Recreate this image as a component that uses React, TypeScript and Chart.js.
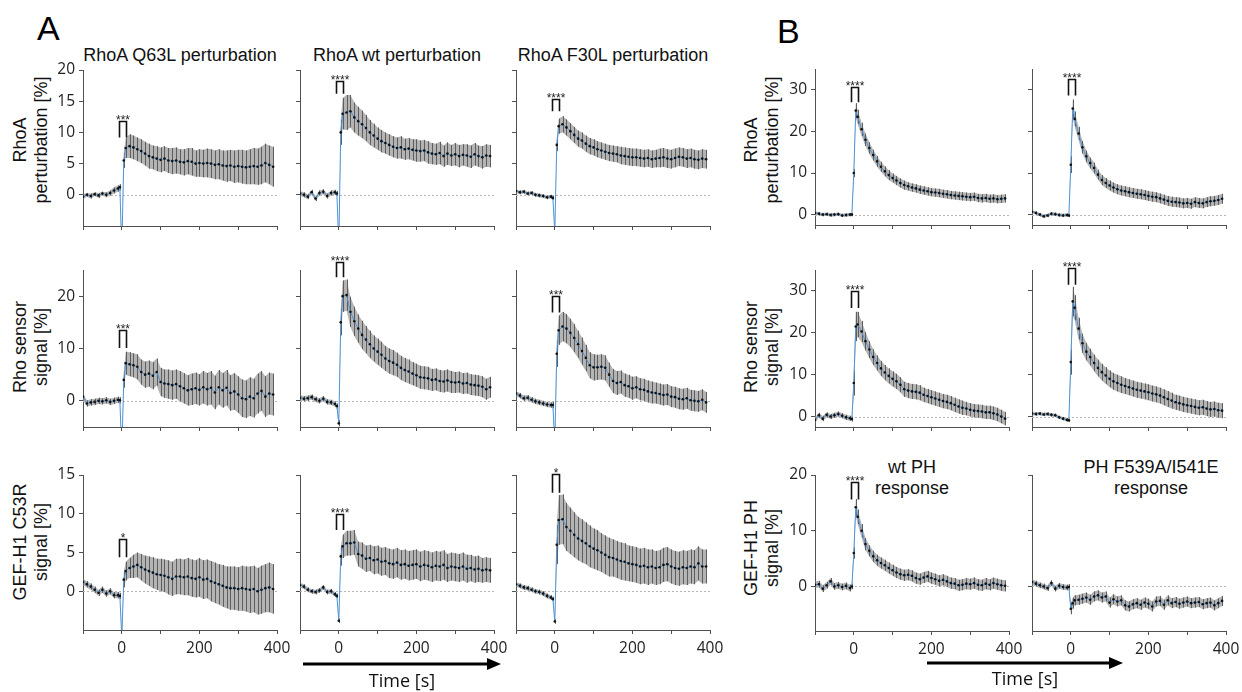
import React, { useEffect, useRef } from "react";
import { Chart, registerables } from "chart.js";
Chart.register(...registerables);

// ---------- data ----------
const TIME = [-100, -90, -80, -70, -60, -50, -40, -30, -20, -10, -5, 0, 5,
  10, 20, 30, 40, 50, 60, 70, 80, 90, 100, 110, 120, 130, 140, 150, 160, 170, 180, 190, 200,
  210, 220, 230, 240, 250, 260, 270, 280, 290, 300, 310, 320, 330, 340, 350, 360, 370, 380, 390];
const X_TICKS = [-100, 0, 100, 200, 300, 400];
const X_LABELS = [0, 200, 400];

const TITLES_A = ["RhoA Q63L perturbation", "RhoA wt perturbation", "RhoA F30L perturbation"];
const TITLES_B = [["wt PH", "response"], ["PH F539A/I541E", "response"]];
const YLABELS_A = [["RhoA", "perturbation [%]"], ["Rho sensor", "signal [%]"], ["GEF-H1 C53R", "signal [%]"]];
const YLABELS_B = [["RhoA", "perturbation [%]"], ["Rho sensor", "signal [%]"], ["GEF-H1 PH", "signal [%]"]];

const Y_TICKS_A = [[0, 5, 10, 15, 20], [0, 10, 20], [0, 5, 10, 15]];
const Y_RANGE_A = [[-5, 20], [-5, 25], [-5, 15]];
const Y_TICKS_B = [[0, 10, 20, 30], [0, 10, 20, 30], [0, 10, 20]];
const Y_RANGE_B = [[-2.5, 35], [-2.5, 35], [-8, 20]];

// Panel A, row 1: RhoA perturbation
const aQ63L_rhoa = [-0.3, 0.0, -0.2, 0.1, -0.1, 0.2, 0.0, 0.3, 0.7, 1.0, 1.2, -9.0, 5.5,
  7.5, 7.8, 7.6, 7.3, 7.0, 6.6, 6.2, 6.0, 5.8, 5.6, 5.8, 5.5, 5.4, 5.5, 5.3, 5.2, 5.4, 5.3, 5.0, 5.1,
  5.0, 5.1, 5.0, 4.8, 4.9, 4.7, 4.6, 4.7, 4.5, 4.6, 4.5, 4.4, 4.5, 4.6, 4.5, 4.7, 5.1, 4.8, 4.5];
const aQ63L_rhoa_err = [0.4, 0.3, 0.4, 0.3, 0.4, 0.3, 0.4, 0.4, 0.5, 0.5, 0.5, 0.5, 1.2,
  1.6, 1.9, 1.9, 1.9, 1.9, 1.9, 2.0, 1.9, 2.0, 2.0, 2.0, 2.0, 2.1, 2.1, 2.0, 2.1, 2.1, 2.2, 2.1, 2.2,
  2.2, 2.3, 2.3, 2.3, 2.4, 2.4, 2.5, 2.5, 2.6, 2.6, 2.7, 2.7, 2.8, 2.9, 2.9, 3.0, 3.1, 3.1, 3.2];
const aWT_rhoa = [0.2, 0.0, -0.3, 0.4, -0.6, 0.3, 0.5, -0.2, 0.3, 0.4, 0.2, -8.0, 10.0,
  13.0, 13.2, 13.4, 12.4, 11.8, 11.3, 10.7, 10.0, 9.5, 9.0, 8.6, 8.3, 8.0, 7.7, 7.5, 7.6, 7.3, 7.4, 7.2, 7.1,
  7.0, 7.1, 6.8, 6.6, 6.5, 6.7, 6.2, 6.6, 6.3, 6.5, 6.2, 6.4, 6.3, 6.1, 6.5, 6.2, 6.0, 6.3, 6.2];
const aWT_rhoa_err = [0.4, 0.4, 0.4, 0.4, 0.4, 0.4, 0.4, 0.4, 0.4, 0.4, 0.4, 0.5, 2.0,
  2.5, 2.8, 2.6, 2.4, 2.3, 2.2, 2.1, 2.0, 1.9, 1.8, 1.8, 1.7, 1.7, 1.7, 1.7, 1.8, 1.7, 1.7, 1.7, 1.8,
  1.7, 1.7, 1.8, 1.7, 1.7, 1.8, 1.7, 1.8, 1.7, 1.8, 1.8, 1.7, 1.8, 1.8, 1.8, 1.7, 1.8, 1.8, 1.8];
const aF30L_rhoa = [0.6, 0.4, 0.5, 0.2, 0.3, 0.0, -0.1, -0.2, -0.4, -0.3, -0.5, -6.0, 8.0,
  11.0, 11.3, 10.8, 10.2, 9.6, 9.0, 8.7, 8.2, 7.8, 7.6, 7.3, 7.1, 6.9, 6.7, 6.6, 6.5, 6.3, 6.2, 6.1, 6.0,
  6.0, 5.9, 5.8, 5.9, 5.7, 5.8, 5.9, 6.0, 5.8, 5.7, 5.9, 6.1, 6.0, 5.8, 5.9, 5.7, 5.6, 5.8, 5.7];
const aF30L_rhoa_err = [0.3, 0.3, 0.3, 0.3, 0.3, 0.3, 0.3, 0.3, 0.3, 0.3, 0.3, 0.5, 1.0,
  1.2, 1.3, 1.3, 1.3, 1.3, 1.3, 1.3, 1.3, 1.3, 1.3, 1.3, 1.3, 1.3, 1.3, 1.3, 1.3, 1.4, 1.4, 1.4, 1.4,
  1.4, 1.4, 1.4, 1.4, 1.4, 1.4, 1.5, 1.5, 1.5, 1.5, 1.5, 1.5, 1.5, 1.5, 1.5, 1.5, 1.5, 1.5, 1.5];

// Panel A, row 2: Rho sensor signal
const aQ63L_rho = [0.8, -0.5, -0.3, -0.2, 0.0, -0.1, 0.1, -0.2, 0.0, 0.2, 0.1, -10.0, 4.0,
  7.2, 7.0, 6.8, 6.5, 5.5, 5.0, 5.2, 4.8, 5.5, 3.6, 3.3, 3.2, 3.0, 3.2, 2.8, 2.4, 2.0, 2.2, 2.4, 2.1,
  2.6, 2.2, 2.5, 1.6, 2.6, 2.0, 2.5, 1.5, 1.8, 1.2, 0.5, 0.3, 0.8, 0.5, 1.4, 1.9, 0.8, 1.4, 1.2];
const aQ63L_rho_err = [0.6, 0.6, 0.6, 0.6, 0.6, 0.6, 0.6, 0.6, 0.6, 0.6, 0.6, 0.5, 1.5,
  2.2, 2.3, 2.3, 2.4, 2.4, 2.5, 2.5, 2.6, 2.6, 2.7, 2.7, 2.8, 2.8, 2.8, 2.9, 2.9, 2.9, 3.0, 3.0, 3.0,
  3.1, 3.1, 3.2, 3.2, 3.3, 3.3, 3.4, 3.4, 3.5, 3.5, 3.6, 3.6, 3.7, 3.7, 3.8, 3.8, 3.9, 4.0, 4.0];
const aWT_rho = [0.6, 0.4, 0.5, 0.7, 0.3, 0.0, 0.4, -0.2, -0.3, -0.6, -1.0, -4.3, 15.0,
  20.0, 20.2, 17.0, 15.2, 13.8, 12.6, 11.7, 10.8, 10.0, 9.4, 8.8, 8.1, 7.6, 7.3, 6.9, 6.3, 5.9, 5.6, 5.2, 4.9,
  4.5, 4.4, 4.3, 4.0, 4.1, 3.8, 3.7, 3.9, 3.6, 3.5, 3.6, 3.3, 3.4, 3.1, 3.0, 2.9, 2.7, 2.2, 2.6];
const aWT_rho_err = [0.5, 0.5, 0.5, 0.5, 0.5, 0.5, 0.5, 0.5, 0.5, 0.5, 0.5, 0.6, 2.5,
  3.0, 3.0, 2.9, 2.8, 2.7, 2.7, 2.6, 2.6, 2.5, 2.5, 2.5, 2.4, 2.4, 2.4, 2.3, 2.3, 2.3, 2.3, 2.2, 2.2,
  2.2, 2.2, 2.2, 2.1, 2.1, 2.1, 2.1, 2.1, 2.1, 2.0, 2.0, 2.0, 2.0, 2.0, 2.0, 2.0, 2.0, 2.0, 2.0];
const aF30L_rho = [1.4, 1.0, 0.5, 0.6, 0.2, -0.1, -0.3, -0.5, -0.7, -0.8, -0.8, -8.0, 9.0,
  13.5, 14.2, 13.8, 13.0, 12.0, 10.8, 9.5, 8.2, 6.8, 6.4, 6.4, 6.5, 6.3, 5.0, 3.8, 3.4, 3.6, 3.0, 2.8, 2.4,
  2.6, 2.2, 2.1, 1.8, 1.6, 1.5, 1.3, 1.1, 1.2, 0.8, 0.7, 0.4, 0.3, 0.5, 0.1, 0.0, -0.1, 0.2, -0.3];
const aF30L_rho_err = [0.5, 0.5, 0.5, 0.5, 0.5, 0.5, 0.5, 0.5, 0.5, 0.5, 0.6, 0.6, 2.5,
  2.8, 2.8, 2.8, 2.7, 2.7, 2.6, 2.6, 2.5, 2.5, 2.5, 2.4, 2.4, 2.4, 2.3, 2.3, 2.3, 2.2, 2.2, 2.2, 2.2,
  2.1, 2.1, 2.1, 2.1, 2.1, 2.0, 2.0, 2.0, 2.0, 2.0, 2.0, 2.0, 2.0, 2.0, 2.0, 2.0, 2.0, 2.0, 2.0];

// Panel A, row 3: GEF-H1 C53R signal
const aQ63L_gef = [1.2, 0.9, 0.6, 0.2, -0.2, 0.2, -0.3, 0.0, -0.5, -0.5, -0.6, -6.0, 1.5,
  2.6, 3.0, 3.2, 3.4, 3.1, 2.8, 2.6, 2.4, 2.2, 2.1, 2.0, 1.8, 1.6, 1.9, 1.9, 1.8, 1.9, 1.7, 1.6, 1.8,
  1.5, 1.6, 1.3, 1.1, 0.9, 0.7, 0.5, 0.4, 0.4, 0.3, 0.4, 0.3, 0.2, 0.3, 0.0, 0.2, 0.4, 0.5, 0.3];
const aQ63L_gef_err = [0.4, 0.4, 0.4, 0.4, 0.4, 0.4, 0.4, 0.4, 0.4, 0.4, 0.4, 0.4, 1.0,
  1.2, 1.3, 1.5, 1.6, 1.7, 1.8, 1.9, 2.0, 2.0, 2.1, 2.1, 2.2, 2.2, 2.3, 2.3, 2.3, 2.4, 2.4, 2.4, 2.5,
  2.5, 2.5, 2.6, 2.6, 2.6, 2.7, 2.7, 2.8, 2.8, 2.8, 2.9, 2.9, 3.0, 3.0, 3.0, 3.1, 3.1, 3.2, 3.2];
const aWT_gef = [0.8, 0.6, 0.2, 0.0, -0.1, 0.1, 0.5, -0.1, 0.0, -0.4, -0.6, -3.8, 4.5,
  5.8, 6.2, 6.2, 6.3, 4.8, 4.6, 4.2, 4.3, 4.0, 4.1, 3.8, 3.9, 3.6, 3.5, 3.7, 3.4, 3.5, 3.3, 3.4, 3.5,
  3.2, 3.4, 3.3, 3.1, 3.3, 3.2, 3.4, 3.0, 3.2, 3.1, 3.0, 3.2, 2.9, 3.0, 2.8, 2.9, 2.7, 2.8, 2.7];
const aWT_gef_err = [0.3, 0.3, 0.3, 0.3, 0.3, 0.3, 0.3, 0.3, 0.3, 0.3, 0.3, 0.3, 1.2,
  1.5, 1.6, 1.6, 1.6, 1.6, 1.7, 1.7, 1.7, 1.8, 1.8, 1.8, 1.8, 1.9, 1.9, 1.9, 1.9, 1.9, 1.9, 1.9, 1.9,
  1.9, 1.9, 1.9, 1.9, 1.9, 1.9, 1.9, 1.8, 1.8, 1.8, 1.8, 1.8, 1.8, 1.7, 1.7, 1.7, 1.6, 1.6, 1.6];
const aF30L_gef = [0.9, 0.7, 0.5, 0.4, 0.2, 0.0, -0.1, -0.3, -0.6, -0.8, -1.0, -3.9, 6.0,
  9.2, 9.3, 8.3, 7.8, 7.3, 6.8, 6.5, 6.2, 5.8, 5.5, 5.3, 5.0, 4.7, 4.4, 4.3, 4.1, 3.9, 3.8, 3.6, 3.5,
  3.4, 3.2, 3.3, 3.1, 3.2, 3.0, 3.1, 3.4, 3.5, 3.2, 3.0, 2.9, 3.1, 3.0, 3.2, 3.1, 3.6, 3.2, 3.2];
const aF30L_gef_err = [0.3, 0.3, 0.3, 0.3, 0.3, 0.3, 0.3, 0.3, 0.3, 0.3, 0.3, 0.3, 2.5,
  3.2, 3.2, 3.1, 3.0, 2.9, 2.8, 2.8, 2.7, 2.7, 2.6, 2.6, 2.5, 2.5, 2.5, 2.4, 2.4, 2.4, 2.4, 2.3, 2.3,
  2.3, 2.3, 2.3, 2.3, 2.2, 2.2, 2.2, 2.2, 2.2, 2.2, 2.2, 2.2, 2.2, 2.2, 2.2, 2.2, 2.2, 2.2, 2.2];

// Panel B, row 1: RhoA perturbation
const bWT_rhoa = [0.4, 0.2, 0.0, 0.1, -0.1, 0.0, 0.1, -0.2, -0.1, 0.0, 0.0, 10.0, 25.0,
  23.5, 20.5, 18.0, 16.0, 14.3, 12.8, 11.5, 10.4, 9.5, 8.8, 8.2, 7.6, 7.1, 6.8, 6.5, 6.3, 6.0, 5.8, 5.6, 5.4,
  5.3, 5.2, 5.0, 4.9, 4.7, 4.6, 4.5, 4.4, 4.3, 4.2, 4.3, 4.0, 3.9, 4.0, 3.8, 3.9, 3.7, 3.8, 3.9];
const bWT_rhoa_err = [0.4, 0.4, 0.4, 0.4, 0.4, 0.4, 0.4, 0.4, 0.4, 0.4, 0.4, 1.0, 1.8,
  1.7, 1.6, 1.5, 1.4, 1.3, 1.3, 1.2, 1.2, 1.2, 1.1, 1.1, 1.1, 1.1, 1.0, 1.0, 1.0, 1.0, 1.0, 1.0, 1.0,
  1.0, 1.0, 1.0, 1.0, 1.0, 1.0, 1.0, 1.0, 1.0, 1.0, 1.0, 1.0, 1.0, 1.0, 1.0, 1.0, 1.0, 1.0, 1.0];
const bMut_rhoa = [0.7, 0.4, 0.0, -0.4, -0.2, 0.2, 0.1, -0.1, -0.2, -0.1, -0.2, 12.0, 25.5,
  23.0, 19.5, 16.2, 14.0, 12.4, 11.2, 9.6, 8.3, 7.6, 7.0, 6.5, 6.1, 5.8, 5.6, 5.4, 5.2, 5.0, 4.9, 4.7, 4.5,
  4.3, 4.2, 3.9, 3.6, 3.3, 3.1, 3.0, 2.9, 2.7, 2.8, 2.6, 3.0, 2.8, 2.7, 3.0, 3.2, 3.3, 3.5, 3.8];
const bMut_rhoa_err = [0.4, 0.4, 0.4, 0.4, 0.4, 0.4, 0.4, 0.4, 0.4, 0.4, 0.4, 2.0, 2.2,
  1.8, 1.6, 1.5, 1.4, 1.3, 1.3, 1.2, 1.2, 1.2, 1.2, 1.2, 1.2, 1.2, 1.2, 1.2, 1.2, 1.2, 1.2, 1.2, 1.2,
  1.2, 1.2, 1.2, 1.2, 1.2, 1.2, 1.2, 1.2, 1.2, 1.2, 1.2, 1.2, 1.2, 1.2, 1.2, 1.2, 1.2, 1.2, 1.2];

// Panel B, row 2: Rho sensor signal
const bWT_rho = [-0.8, 0.3, -0.5, 0.4, 0.0, 0.3, 0.6, 0.2, -0.2, -0.4, -0.6, 8.0, 21.5,
  22.0, 20.3, 18.0, 16.0, 14.2, 12.8, 11.5, 10.5, 9.7, 9.0, 8.4, 7.6, 6.5, 6.2, 6.0, 5.9, 5.7, 5.2, 4.9, 4.6,
  4.3, 4.0, 3.7, 3.5, 3.2, 2.8, 2.4, 2.1, 1.9, 1.6, 1.4, 1.3, 1.2, 1.0, 1.0, 0.8, 0.5, 0.0, -0.5];
const bWT_rho_err = [0.6, 0.6, 0.6, 0.6, 0.6, 0.6, 0.6, 0.6, 0.6, 0.6, 0.6, 3.0, 3.5,
  3.0, 2.5, 2.2, 2.0, 1.9, 1.8, 1.8, 1.8, 1.8, 1.8, 1.8, 1.8, 1.8, 1.8, 1.8, 1.8, 1.8, 1.7, 1.7, 1.7,
  1.7, 1.7, 1.7, 1.7, 1.7, 1.7, 1.7, 1.7, 1.6, 1.6, 1.6, 1.6, 1.6, 1.6, 1.6, 1.6, 1.6, 1.6, 1.6];
const bMut_rho = [0.7, 0.6, 0.7, 0.5, 0.6, 0.4, 0.3, -0.2, -0.5, -0.8, -0.9, 13.0, 27.5,
  26.0, 21.0, 17.5, 15.5, 14.2, 12.8, 11.6, 10.6, 9.8, 9.0, 8.4, 8.0, 7.6, 7.3, 7.0, 6.7, 6.4, 6.2, 6.0, 5.8,
  5.5, 5.3, 5.0, 4.6, 4.2, 3.8, 3.4, 3.2, 2.9, 2.7, 2.5, 2.3, 2.1, 2.2, 1.9, 1.7, 1.8, 1.5, 1.4];
const bMut_rho_err = [0.4, 0.4, 0.4, 0.4, 0.4, 0.4, 0.4, 0.4, 0.4, 0.4, 0.4, 3.0, 3.5,
  3.0, 2.6, 2.3, 2.1, 2.0, 2.0, 2.0, 2.0, 2.0, 2.0, 2.0, 2.0, 2.0, 1.9, 1.9, 1.9, 1.9, 1.9, 1.9, 1.9,
  1.9, 1.9, 1.9, 1.9, 1.9, 1.9, 1.8, 1.8, 1.8, 1.8, 1.8, 1.8, 1.8, 1.8, 1.8, 1.8, 1.8, 1.8, 1.8];

// Panel B, row 3: GEF-H1 PH signal
const bWT_gef = [0.3, 0.4, -0.4, 0.2, 0.9, 0.0, 0.2, -0.1, 0.1, -0.3, 0.0, 6.0, 14.2,
  12.5, 10.0, 7.6, 6.4, 5.4, 4.7, 4.2, 3.8, 3.3, 2.9, 2.5, 2.2, 2.0, 2.1, 1.9, 1.5, 1.3, 1.6, 1.8, 1.5,
  1.3, 1.0, 1.2, 0.9, 0.6, 0.5, 0.2, 0.3, 0.5, 0.4, 0.6, 0.3, 0.2, 0.5, 0.3, 0.6, 0.4, 0.2, 0.1];
const bWT_gef_err = [0.6, 0.6, 0.6, 0.6, 0.6, 0.6, 0.6, 0.6, 0.6, 0.6, 0.5, 1.0, 1.5,
  1.3, 1.2, 1.1, 1.0, 1.0, 1.0, 1.0, 1.0, 1.0, 1.0, 1.0, 1.0, 1.0, 1.0, 1.0, 1.0, 1.0, 1.0, 1.0, 1.0,
  1.0, 1.0, 1.0, 1.0, 1.0, 1.0, 1.0, 1.0, 1.0, 1.0, 1.0, 1.0, 1.0, 1.0, 1.0, 1.0, 1.0, 1.0, 1.0];
const bMut_gef = [0.8, 0.5, 0.2, 0.0, -0.3, 0.6, -0.4, 0.1, -0.1, -0.2, -0.1, -4.0, -3.0,
  -2.5, -2.4, -2.2, -2.0, -2.4, -1.8, -1.6, -2.0, -1.8, -2.9, -2.3, -2.7, -2.5, -3.4, -3.6, -3.2, -3.0, -3.3, -2.9, -3.1,
  -3.6, -2.7, -2.6, -3.3, -2.5, -3.0, -2.8, -3.1, -2.9, -2.7, -3.0, -2.9, -2.8, -3.2, -3.0, -2.9, -3.4, -3.0, -2.6];
const bMut_gef_err = [0.5, 0.5, 0.5, 0.5, 0.5, 0.5, 0.5, 0.5, 0.5, 0.5, 0.5, 1.0, 1.0,
  0.9, 0.9, 0.9, 0.9, 0.9, 0.9, 0.9, 0.9, 0.9, 0.9, 0.9, 0.9, 0.9, 0.9, 0.9, 0.9, 0.9, 0.9, 0.9, 0.9,
  0.9, 0.9, 0.9, 0.9, 0.9, 0.9, 0.9, 0.9, 0.9, 0.9, 0.9, 0.9, 0.9, 0.9, 0.9, 0.9, 0.9, 0.9, 0.9];

// significance brackets: [stars, leg bottom, bracket top] in data units
const SIG_A = [
  [["***", 9.2, 11.8], ["****", 16.2, 18.2], ["****", 13.4, 15.3]],
  [["***", 10.1, 13.5], ["****", 23.6, 26.6], ["***", 16.9, 20.0]],
  [["*", 4.4, 6.8], ["****", 7.9, 10.0], ["*", 12.7, 15.1]],
];
const SIG_B = [
  [["****", 27.0, 30.6], ["****", 28.6, 32.5]],
  [["****", 25.9, 30.0], ["****", 31.5, 35.5]],
  [["****", 15.6, 18.8], null],
];
const SIG_LEGS = [-6, 11];

const SERIES_A = [
  [[aQ63L_rhoa, aQ63L_rhoa_err], [aWT_rhoa, aWT_rhoa_err], [aF30L_rhoa, aF30L_rhoa_err]],
  [[aQ63L_rho, aQ63L_rho_err], [aWT_rho, aWT_rho_err], [aF30L_rho, aF30L_rho_err]],
  [[aQ63L_gef, aQ63L_gef_err], [aWT_gef, aWT_gef_err], [aF30L_gef, aF30L_gef_err]],
];
const SERIES_B = [
  [[bWT_rhoa, bWT_rhoa_err], [bMut_rhoa, bMut_rhoa_err]],
  [[bWT_rho, bWT_rho_err], [bMut_rho, bMut_rho_err]],
  [[bWT_gef, bWT_gef_err], [bMut_gef, bMut_gef_err]],
];

// ---------- layout ----------
const PW = 194;
const AX = [83, 300, 516];
const BX = [815, 1032];
const AY = [[70, 156], [270, 157], [475, 155]];
const BY = [[69, 156], [270, 157], [475, 156]];
const PADL = 40, PADT = 40, PADR = 26, PADB = 34;

const TICK_FONT = { family: "'Open Sans', sans-serif", size: 15.5 };
const AXIS_COLOR = "#505050";

type PanelProps = {
  mean: number[]; err: number[];
  left: number; top: number; height: number;
  yRange: number[]; yTicks: number[];
  showY: boolean; showX: boolean;
  sig: any;
};

function Panel(props: PanelProps) {
  const ref = useRef<HTMLCanvasElement | null>(null);
  const { mean, err, left, top, height, yRange, yTicks, showY, showX, sig } = props;
  const cw = PADL + PW + PADR;
  const chh = PADT + height + PADB;
  useEffect(() => {
    const errPlugin = {
      id: "errbars",
      beforeDatasetsDraw(chart: any) {
        const { ctx, chartArea: a, scales } = chart;
        const xs = scales.x, ys = scales.y;
        ctx.save();
        ctx.beginPath();
        ctx.rect(a.left, a.top, a.right - a.left, a.bottom - a.top);
        ctx.clip();
        // zero line
        const y0 = Math.round(ys.getPixelForValue(0)) + 0.5;
        ctx.setLineDash([2, 2]);
        ctx.strokeStyle = "#b5b5b5";
        ctx.lineWidth = 1;
        ctx.beginPath();
        ctx.moveTo(a.left, y0);
        ctx.lineTo(a.right, y0);
        ctx.stroke();
        ctx.setLineDash([]);
        // band
        ctx.fillStyle = "#b4b4b4";
        ctx.beginPath();
        TIME.forEach((t, i) => {
          const px = xs.getPixelForValue(t), py = ys.getPixelForValue(mean[i] + err[i]);
          if (i === 0) ctx.moveTo(px, py); else ctx.lineTo(px, py);
        });
        for (let i = TIME.length - 1; i >= 0; i--) {
          ctx.lineTo(xs.getPixelForValue(TIME[i]), ys.getPixelForValue(mean[i] - err[i]));
        }
        ctx.closePath();
        ctx.fill();
        // bars
        ctx.strokeStyle = "#5e5e5e";
        ctx.lineWidth = 1;
        TIME.forEach((t, i) => {
          const px = Math.round(xs.getPixelForValue(t)) + 0.5;
          ctx.beginPath();
          ctx.moveTo(px, ys.getPixelForValue(mean[i] + err[i]));
          ctx.lineTo(px, ys.getPixelForValue(mean[i] - err[i]));
          ctx.stroke();
        });
        ctx.restore();
      },
    };
    const sigPlugin = {
      id: "sig",
      afterDatasetsDraw(chart: any) {
        if (!sig) return;
        const { ctx, scales } = chart;
        const xs = scales.x, ys = scales.y;
        const xl = Math.round(xs.getPixelForValue(SIG_LEGS[0])) + 0.5;
        const xr = Math.round(xs.getPixelForValue(SIG_LEGS[1])) + 0.5;
        const yl = ys.getPixelForValue(sig[1]);
        const yt = Math.round(ys.getPixelForValue(sig[2])) + 0.5;
        ctx.save();
        ctx.strokeStyle = "#111";
        ctx.lineWidth = 1.6;
        ctx.beginPath();
        ctx.moveTo(xl, yl);
        ctx.lineTo(xl, yt);
        ctx.lineTo(xr, yt);
        ctx.lineTo(xr, yl);
        ctx.stroke();
        ctx.fillStyle = "#222";
        ctx.font = "12px 'Liberation Sans', Arial, sans-serif";
        ctx.textAlign = "center";
        ctx.textBaseline = "alphabetic";
        ctx.fillText(sig[0], (xl + xr) / 2, yt + 2.5);
        ctx.restore();
      },
    };
    const chart = new Chart(ref.current as HTMLCanvasElement, {
      type: "line",
      data: {
        datasets: [{
          data: TIME.map((t, i) => ({ x: t, y: mean[i] })),
          borderColor: "#4f93d6",
          borderWidth: 1,
          pointRadius: 1.3,
          pointBackgroundColor: "#111",
          pointBorderWidth: 0,
          tension: 0,
        }],
      },
      options: {
        responsive: false,
        animation: false,
        devicePixelRatio: 1,
        layout: { padding: { top: PADT, right: PADR, left: 0, bottom: 0 } },
        plugins: { legend: { display: false }, tooltip: { enabled: false } },
        scales: {
          x: {
            type: "linear", min: -100, max: 400,
            afterBuildTicks: (s: any) => { s.ticks = X_TICKS.map((v) => ({ value: v })); },
            afterFit: (s: any) => { s.height = PADB; },
            ticks: {
              autoSkip: false, maxRotation: 0, minRotation: 0, padding: 5,
              color: "#222", font: TICK_FONT,
              callback: (v: any) => (showX && X_LABELS.includes(Number(v)) ? String(v) : ""),
            },
            grid: { drawOnChartArea: false, drawTicks: true, tickLength: 4, color: AXIS_COLOR },
            border: { display: true, color: AXIS_COLOR, width: 1 },
          },
          y: {
            type: "linear", min: yRange[0], max: yRange[1],
            afterBuildTicks: (s: any) => { s.ticks = yTicks.map((v) => ({ value: v })); },
            afterFit: (s: any) => { s.width = PADL; },
            ticks: {
              autoSkip: false, padding: 4, color: "#222", font: TICK_FONT,
              callback: (v: any) => (showY ? String(v) : ""),
            },
            grid: { drawOnChartArea: false, drawTicks: true, tickLength: 4, color: AXIS_COLOR },
            border: { display: true, color: AXIS_COLOR, width: 1 },
          },
        },
      } as any,
      plugins: [errPlugin, sigPlugin],
    });
    return () => chart.destroy();
  }, []);
  return (
    <canvas
      ref={ref}
      width={cw}
      height={chh}
      style={{ position: "absolute", left: left - PADL, top: top - PADT, width: cw, height: chh }}
    />
  );
}

const TEXT_FONT = "'Liberation Sans', Arial, sans-serif";

function YLabel({ lines, cx, cy }: { lines: string[]; cx: number; cy: number }) {
  return (
    <div
      style={{
        position: "absolute", left: cx - 110, top: cy - 21, width: 220, height: 42,
        transform: "rotate(-90deg)", transformOrigin: "50% 50%",
        fontFamily: TEXT_FONT, fontSize: 18, lineHeight: "21px", textAlign: "center",
        color: "#111", whiteSpace: "nowrap",
      }}
    >
      <div>{lines[0]}</div>
      <div>{lines[1]}</div>
    </div>
  );
}

export default function App() {
  const panels: any[] = [];
  for (let r = 0; r < 3; r++) {
    for (let c = 0; c < 3; c++) {
      panels.push(
        <Panel key={`a${r}${c}`} mean={SERIES_A[r][c][0]} err={SERIES_A[r][c][1]}
          left={AX[c]} top={AY[r][0]} height={AY[r][1]}
          yRange={Y_RANGE_A[r]} yTicks={Y_TICKS_A[r]}
          showY={c === 0} showX={r === 2} sig={SIG_A[r][c]} />
      );
    }
    for (let c = 0; c < 2; c++) {
      panels.push(
        <Panel key={`b${r}${c}`} mean={SERIES_B[r][c][0]} err={SERIES_B[r][c][1]}
          left={BX[c]} top={BY[r][0]} height={BY[r][1]}
          yRange={Y_RANGE_B[r]} yTicks={Y_TICKS_B[r]}
          showY={c === 0} showX={r === 2} sig={SIG_B[r][c]} />
      );
    }
  }
  const rowCentersA = [140, 347, 542];
  const rowCentersB = [140, 347, 548];
  return (
    <div style={{ position: "fixed", left: 0, top: 0, width: 1242, height: 692, background: "#fff", overflow: "hidden" }}>
      <div style={{ position: "absolute", left: 37, top: 11, fontFamily: TEXT_FONT, fontSize: 34, lineHeight: "34px", color: "#000" }}>A</div>
      <div style={{ position: "absolute", left: 777, top: 14, fontFamily: TEXT_FONT, fontSize: 34, lineHeight: "34px", color: "#000" }}>B</div>
      {TITLES_A.map((t, c) => (
        <div key={t} style={{
          position: "absolute", left: AX[c] + PW / 2 - 150, top: 46, width: 300, textAlign: "center",
          fontFamily: TEXT_FONT, fontSize: 18, lineHeight: "18px", color: "#111", whiteSpace: "nowrap",
        }}>{t}</div>
      ))}
      {TITLES_B.map((t, c) => (
        <div key={t[0]} style={{
          position: "absolute", left: BX[c] + 97 - 150 + (c === 0 ? 0 : 22), top: 457, width: 300, textAlign: "center",
          fontFamily: TEXT_FONT, fontSize: 18, lineHeight: "21px", color: "#111", whiteSpace: "nowrap",
        }}>
          <div>{t[0]}</div>
          <div>{t[1]}</div>
        </div>
      ))}
      {YLABELS_A.map((l, r) => <YLabel key={"ya" + r} lines={l} cx={31} cy={rowCentersA[r]} />)}
      {YLABELS_B.map((l, r) => <YLabel key={"yb" + r} lines={l} cx={762} cy={rowCentersB[r]} />)}
      {panels}
      <svg width={1242} height={692} style={{ position: "absolute", left: 0, top: 0, pointerEvents: "none" }}>
        <line x1={303} y1={664} x2={490} y2={664} stroke="#000" strokeWidth={3} />
        <polygon points="487,658 501,664 487,670" fill="#000" />
        <line x1={927} y1={663} x2={1112} y2={663} stroke="#000" strokeWidth={3} />
        <polygon points="1109,657 1123,663 1109,669" fill="#000" />
      </svg>
      <div style={{ position: "absolute", left: 402 - 60, top: 671, width: 120, textAlign: "center", fontFamily: "'Open Sans', sans-serif", fontSize: 18, lineHeight: "18px", color: "#111" }}>Time [s]</div>
      <div style={{ position: "absolute", left: 1025 - 60, top: 669, width: 120, textAlign: "center", fontFamily: "'Open Sans', sans-serif", fontSize: 18, lineHeight: "18px", color: "#111" }}>Time [s]</div>
    </div>
  );
}
